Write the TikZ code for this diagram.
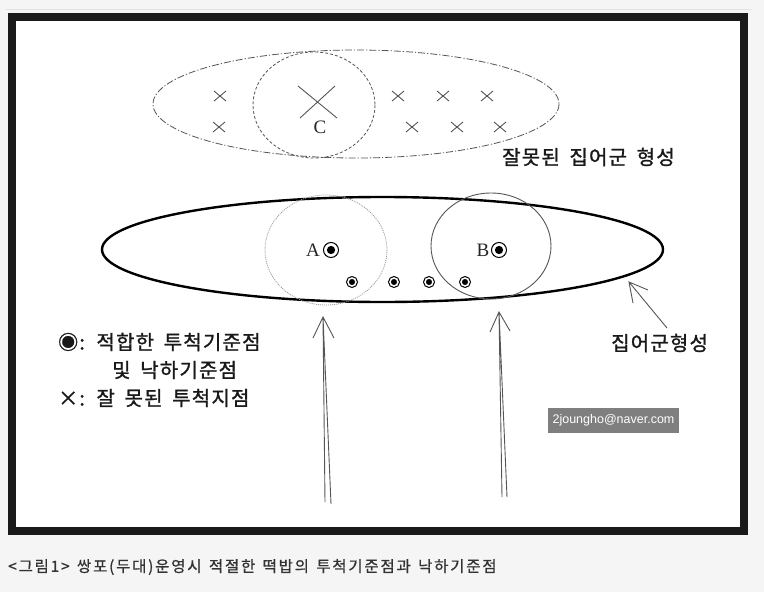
\documentclass[tikz,border=0pt]{standalone}
\usepackage{fontspec}
\newfontfamily\krsp[LetterSpace=6,WordSpace=1.7,FakeBold=1.2]{Noto Sans CJK KR}
\newfontfamily\krcap[LetterSpace=11.5,WordSpace=1.4,FakeBold=0.8]{Noto Sans CJK KR}
\newfontfamily\tnr{Liberation Serif}
\newfontfamily\arial{Liberation Sans}
\definecolor{bg}{HTML}{F5F5F5}
\definecolor{framec}{HTML}{1A1A1A}
\definecolor{faint}{HTML}{E4E4E4}
\definecolor{pencil}{HTML}{555555}
\definecolor{lightpencil}{HTML}{9A9A9A}
\definecolor{capc}{HTML}{333333}
\definecolor{mailbg}{HTML}{7F7F7F}
\tikzset{
  dashdotline/.style={draw=pencil, line width=0.8pt, dash pattern=on 7pt off 2pt on 1.2pt off 2pt},
  dashedline/.style={draw=pencil, line width=0.8pt, dash pattern=on 3pt off 2pt},
  dottedline/.style={draw=lightpencil, line width=0.8pt, dash pattern=on 1pt off 1pt},
  thinline/.style={draw=pencil, line width=0.9pt},
  thickline/.style={draw=black, line width=2.4pt},
  arrowline/.style={draw=pencil, line width=0.9pt},
  krtext/.style={font=\krsp\fontsize{20}{23}\selectfont, text=black!90, inner sep=0pt, anchor=west},
  lettertext/.style={font=\tnr\fontsize{19}{22}\selectfont, text=black!85, inner sep=0pt},
  smallx/.style={draw=pencil, line width=0.9pt},
}
\begin{document}
\begin{tikzpicture}[x=1pt,y=-1pt]
\useasboundingbox (0,0) rectangle (764,592);
\fill[bg] (0,0) rectangle (764,592);
\draw[faint, line width=0.8pt] (5,9) -- (752,9);
\fill[framec] (8,13) rectangle (748,535);
\fill[white] (16,21) rectangle (740,527);

% upper group (wrong)
\draw[dashdotline] (356,104) ellipse [x radius=203, y radius=54];
\draw[dashedline] (314,105) ellipse [x radius=61, y radius=53];
\draw[thinline] (298,86) -- (337,118);
\draw[thinline] (335,86) -- (300,118);
\node[lettertext] (lc) at (320,127) {C};
\foreach \p in {(220,96),(398,96),(443,96),(487,96),(219,127),(412,127),(457,127),(500,127)} {
  \draw[smallx, shift={\p}] (-6,-5) -- (6,5) (6,-5) -- (-6,5);
}
\node[krtext] (wrong) at (502,157) {잘못된 집어군 형성};

% lower group (right)
\draw[thickline] (382.5,249.5) ellipse [x radius=280.5, y radius=52.5];
\draw[dottedline] (326,250) ellipse [x radius=61, y radius=55];
\draw[thinline] (491,246) ellipse [x radius=60, y radius=53];
\node[lettertext] (la) at (313,250) {A};
\node[lettertext] (lb) at (483,250) {B};
\foreach \p/\r in {(331,250)/7.5,(499,250)/7.5,(352,282)/5.5,(394,282)/5.5,(429,282)/5.5,(465,282)/5.5} {
  \draw[black, line width=1pt, shift={\p}] (0,0) circle[radius=\r];
  \fill[black, shift={\p}] (0,0) circle[radius=0.55*\r];
}

% pointer arrow to lower ellipse
\coordinate (ptip) at (629,282);
\coordinate (ptail) at (667,328);
\coordinate (pw1) at (648,290);
\coordinate (pw2) at (633,303);
\draw[arrowline] (ptail) -- (ptip) (pw1) -- (ptip) -- (pw2);
\node[krtext] (form) at (611,343) {집어군형성};

% vertical arrows
\coordinate (atip) at (323,317);
\coordinate (at1) at (325,502);
\coordinate (at2) at (331,504);
\coordinate (aw1) at (313,338);
\coordinate (aw2) at (334,338);
\draw[arrowline] (at1) -- (atip) -- (at2) (aw1) -- (atip) -- (aw2);
\coordinate (btip) at (499,312);
\coordinate (bt1) at (502,497);
\coordinate (bt2) at (507,497);
\coordinate (bw1) at (490,332);
\coordinate (bw2) at (510,331);
\draw[arrowline] (bt1) -- (btip) -- (bt2) (bw1) -- (btip) -- (bw2);

% legend
\node[krtext] (leg1) at (58,342) {◉: 적합한 투척기준점};
\node[krtext] (leg2) at (112,370) {및 낙하기준점};
\node[krtext] (leg3) at (58,398) {×: 잘 못된 투척지점};

% watermark
\fill[mailbg] (548,408) rectangle (679,433);
\node[font=\arial\fontsize{12.5}{14}\selectfont, text=white, inner sep=0pt] (mail) at (613.5,420.5) {2joungho@naver.com};

% caption
\node[font=\krcap\fontsize{15.5}{18}\selectfont, text=capc, inner sep=0pt, anchor=west] (cap) at (8,567) {<그림1> 쌍포(두대)운영시 적절한 떡밥의 투척기준점과 낙하기준점};
\end{tikzpicture}
\end{document}
